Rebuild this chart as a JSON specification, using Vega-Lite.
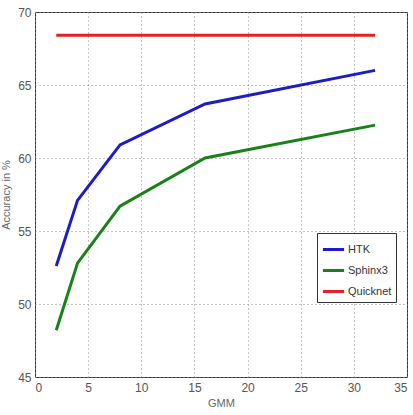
{
  "$schema": "https://vega.github.io/schema/vega-lite/v6.json",
  "width": 372,
  "height": 365,
  "autosize": {"type": "none"},
  "padding": {"left": 35, "top": 12, "right": 6, "bottom": 38},
  "background": "white",
  "config": {
    "font": "Liberation Sans",
    "view": {"stroke": "#333333", "strokeWidth": 1}
  },
  "data": {
    "values": [
      {"GMM": 2, "acc": 52.6, "system": "HTK"},
      {"GMM": 4, "acc": 57.1, "system": "HTK"},
      {"GMM": 8, "acc": 60.9, "system": "HTK"},
      {"GMM": 16, "acc": 63.7, "system": "HTK"},
      {"GMM": 32, "acc": 66.0, "system": "HTK"},
      {"GMM": 2, "acc": 48.2, "system": "Sphinx3"},
      {"GMM": 4, "acc": 52.8, "system": "Sphinx3"},
      {"GMM": 8, "acc": 56.7, "system": "Sphinx3"},
      {"GMM": 16, "acc": 60.0, "system": "Sphinx3"},
      {"GMM": 32, "acc": 62.25, "system": "Sphinx3"},
      {"GMM": 2, "acc": 68.4, "system": "Quicknet"},
      {"GMM": 32, "acc": 68.4, "system": "Quicknet"}
    ]
  },
  "mark": {"type": "line", "strokeWidth": 3},
  "encoding": {
    "x": {
      "field": "GMM", "type": "quantitative",
      "scale": {"domain": [0, 35], "nice": false, "zero": false},
      "axis": {
        "values": [0, 5, 10, 15, 20, 25, 30, 35],
        "title": "GMM", "titleFontSize": 11, "titleFontWeight": "normal", "titleColor": "#666666",
        "titlePadding": 4,
        "labelFontSize": 12, "labelColor": "#555555", "labelPadding": 5,
        "ticks": false, "domain": false,
        "grid": true, "gridDash": [1, 3], "gridColor": "#888888", "gridWidth": 1
      }
    },
    "y": {
      "field": "acc", "type": "quantitative",
      "scale": {"domain": [45, 70], "nice": false, "zero": false},
      "axis": {
        "values": [45, 50, 55, 60, 65, 70],
        "title": "Accuracy in %", "titleFontSize": 11, "titleFontWeight": "normal", "titleColor": "#666666",
        "titlePadding": 6,
        "labelFontSize": 12, "labelColor": "#555555", "labelPadding": 4,
        "ticks": false, "domain": false,
        "grid": true, "gridDash": [1, 3], "gridColor": "#888888", "gridWidth": 1
      }
    },
    "color": {
      "field": "system", "type": "nominal",
      "scale": {"domain": ["HTK", "Sphinx3", "Quicknet"], "range": ["#1c1cc8", "#1a801a", "#e02424"]},
      "legend": {
        "title": null, "orient": "none", "legendX": 282, "legendY": 221,
        "symbolType": "stroke", "symbolStrokeWidth": 3, "symbolSize": 450,
        "labelFontSize": 11, "labelColor": "#333333",
        "strokeColor": "#333333", "fillColor": "white", "padding": 4,
        "rowPadding": 2, "labelOffset": 2
      }
    }
  }
}
